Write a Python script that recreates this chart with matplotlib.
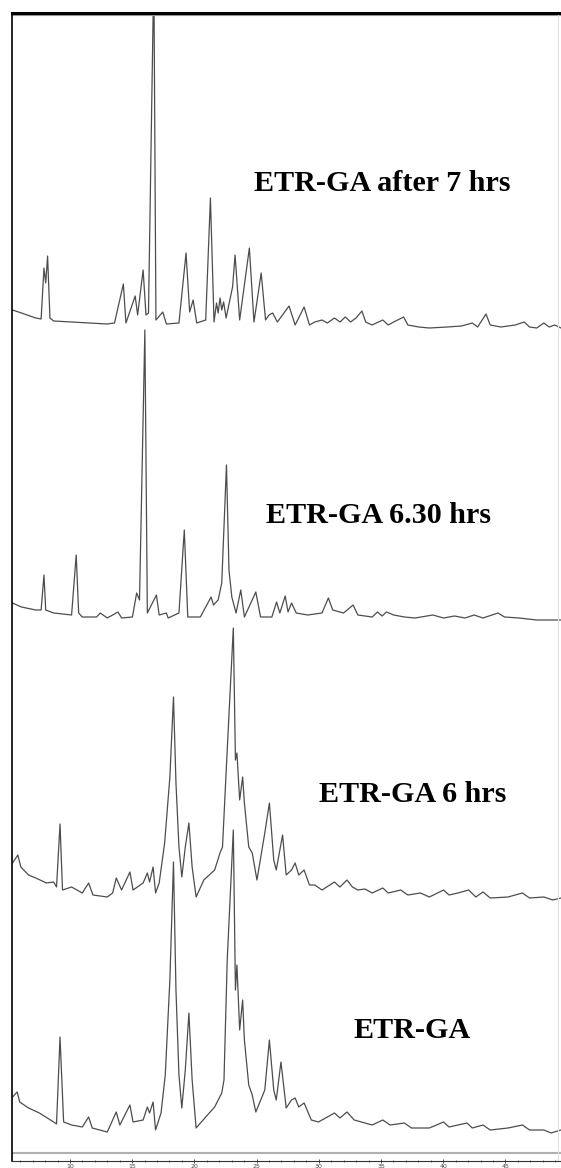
import numpy as np
import matplotlib
matplotlib.use("Agg")
import matplotlib.pyplot as plt

# ETR-GA after 7 hrs
tt_7h = [5.38, 6.10, 7.25, 7.68, 7.91, 8.05, 8.20, 8.39, 8.69, 10.13,
         11.56, 12.98, 13.58, 14.29, 14.50, 15.24, 15.44, 15.88, 16.11, 16.31,
         16.74, 16.91, 17.46, 17.75, 18.76, 19.33, 19.62, 19.90, 20.19, 20.91,
         21.29, 21.58, 21.78, 21.91, 22.06, 22.20, 22.35, 22.55, 23.07, 23.27,
         23.64, 24.42, 24.79, 25.37, 25.72, 26.00, 26.29, 26.67, 27.61, 28.10,
         28.82, 29.25, 29.68, 30.26, 30.69, 31.26, 31.71, 32.13, 32.56, 32.99,
         33.47, 33.77, 34.28, 35.15, 35.58, 36.02, 36.82, 37.16, 38.03, 38.89,
         40.32, 41.47, 42.34, 42.77, 43.44, 43.78, 44.64, 45.79, 46.51, 46.94,
         47.52, 48.09, 48.52, 48.96, 49.47]
int_7h = [20, 17, 12, 11, 62, 47, 74, 12, 9, 8,
          7, 6, 7, 46, 7, 34, 15, 60, 15, 17,
          360, 10, 18, 6, 7, 77, 18, 30, 7, 10,
          132, 8, 27, 17, 32, 20, 28, 12, 43, 75,
          10, 82, 8, 57, 10, 15, 17, 8, 24, 5,
          23, 5, 8, 10, 7, 12, 8, 13, 8, 12,
          19, 8, 5, 10, 5, 8, 13, 5, 3, 2,
          3, 4, 7, 3, 16, 5, 3, 5, 8, 3,
          2, 7, 3, 5, 2]

# ETR-GA 6.30 hrs
tt_630 = [5.38, 6.10, 7.25, 7.68, 7.91, 8.05, 8.69, 10.13, 10.50, 10.70,
          10.99, 12.14, 12.43, 13.00, 13.86, 14.15, 15.02, 15.36, 15.59, 16.02,
          16.22, 16.95, 17.17, 17.75, 17.89, 18.76, 19.19, 19.47, 20.48, 21.34,
          21.54, 21.91, 22.20, 22.58, 22.78, 23.01, 23.35, 23.73, 24.02, 24.94,
          25.32, 26.23, 26.61, 26.87, 27.30, 27.53, 27.81, 28.19, 29.11, 30.26,
          30.77, 31.12, 31.99, 32.76, 33.14, 34.29, 34.72, 35.09, 35.44, 36.02,
          36.88, 37.74, 39.17, 40.03, 40.90, 41.76, 42.48, 43.20, 44.41, 44.93,
          46.08, 47.52, 49.47]
int_630 = [22, 18, 15, 15, 50, 15, 12, 10, 70, 12,
           8, 8, 12, 7, 13, 7, 8, 32, 25, 295,
           12, 30, 10, 12, 7, 12, 95, 8, 8, 28,
           20, 25, 42, 160, 55, 28, 12, 35, 8, 33,
           8, 8, 23, 12, 29, 13, 22, 12, 10, 12,
           27, 15, 12, 20, 10, 8, 13, 9, 13, 10,
           8, 7, 10, 7, 9, 7, 10, 7, 12, 8,
           7, 5, 5]

# ETR-GA 6 hrs
tt_6h = [5.38, 5.81, 6.05, 6.67, 7.25, 8.11, 8.69, 8.92, 9.20, 9.40,
         10.13, 10.99, 11.50, 11.85, 13.00, 13.43, 13.72, 14.15, 14.82, 15.07,
         15.88, 16.22, 16.40, 16.68, 16.88, 17.17, 17.61, 18.03, 18.32, 18.52,
         18.76, 18.99, 19.27, 19.56, 19.82, 20.14, 20.76, 21.63, 22.06, 22.26,
         22.64, 23.13, 23.30, 23.42, 23.64, 23.88, 24.02, 24.37, 24.65, 25.03,
         25.66, 26.03, 26.38, 26.58, 27.09, 27.38, 27.81, 28.10, 28.39, 28.82,
         29.25, 29.68, 30.26, 31.26, 31.70, 32.27, 32.70, 33.14, 33.71, 34.29,
         35.15, 35.58, 36.59, 37.16, 38.17, 38.89, 40.03, 40.47, 41.19, 42.05,
         42.62, 43.20, 43.78, 45.21, 46.37, 46.94, 48.09, 48.81, 49.47]
int_6h = [37, 45, 33, 25, 22, 17, 18, 13, 76, 10,
          13, 7, 17, 5, 3, 7, 22, 10, 28, 10,
          17, 27, 18, 33, 7, 17, 57, 123, 203, 117,
          53, 23, 53, 77, 33, 3, 20, 30, 47, 53,
          150, 272, 140, 147, 100, 123, 97, 53, 47, 20,
          67, 97, 40, 30, 65, 25, 30, 37, 25, 30,
          15, 15, 10, 18, 13, 20, 13, 10, 11, 7,
          12, 7, 10, 5, 7, 3, 10, 5, 7, 10,
          3, 8, 2, 3, 7, 2, 3, 0, 2]

# ETR-GA
tt_0 = [5.38, 5.76, 5.96, 6.67, 7.54, 8.69, 8.92, 9.20, 9.49, 10.13,
        10.99, 11.50, 11.79, 13.00, 13.72, 14.01, 14.82, 15.07, 15.88, 16.22,
        16.40, 16.68, 16.88, 17.32, 17.66, 18.03, 18.32, 18.52, 18.76, 18.99,
        19.27, 19.56, 19.82, 20.14, 20.91, 21.63, 22.20, 22.38, 22.64, 23.13,
        23.30, 23.42, 23.64, 23.88, 24.02, 24.37, 24.65, 24.94, 25.66, 26.03,
        26.38, 26.58, 26.96, 27.38, 27.81, 28.10, 28.39, 28.82, 29.40, 29.97,
        31.26, 31.70, 32.27, 32.85, 33.71, 34.29, 35.15, 35.73, 36.88, 37.45,
        38.89, 40.03, 40.47, 41.91, 42.34, 43.20, 43.78, 45.21, 46.37, 46.94,
        48.09, 48.67, 49.47]
int_0 = [38, 43, 33, 27, 22, 13, 11, 98, 13, 10,
         8, 18, 7, 3, 23, 10, 30, 13, 15, 28,
         22, 33, 5, 22, 60, 155, 273, 145, 60, 27,
         65, 122, 55, 7, 18, 28, 42, 55, 175, 305,
         145, 170, 105, 135, 95, 50, 40, 23, 45, 95,
         45, 35, 73, 27, 35, 37, 28, 32, 15, 13,
         22, 17, 23, 15, 12, 10, 15, 10, 12, 7,
         7, 13, 8, 12, 7, 10, 5, 7, 10, 5,
         5, 2, 5]

labels = ["ETR-GA after 7 hrs", "ETR-GA 6.30 hrs", "ETR-GA 6 hrs", "ETR-GA"]
series = [(tt_7h, int_7h), (tt_630, int_630), (tt_6h, int_6h), (tt_0, int_0)]
offsets = [830.5, 535.5, 260.5, 25.5]
# label anchor (pixels from left / top of the image)
label_pos = [(382, 191), (378, 523), (413, 802), (412, 1038)]

W, H = 561, 1168
fig = plt.figure(figsize=(W / 100, H / 100), dpi=100)
ax = fig.add_axes([11.5 / W, (H - 1160.5) / H, (W - 11.5) / W, (1160.5 - 13) / H])

for (tt, inten), off in zip(series, offsets):
    ax.plot(tt, np.array(inten) + off, color="#4d4d4d", lw=0.9)

ax.set_xlim(5.30, 49.47)
ax.set_ylim(0, 1147.5)

ax.spines["top"].set_linewidth(2.2)
ax.spines["top"].set_color("black")
ax.spines["left"].set_linewidth(1.2)
ax.spines["left"].set_color("black")
ax.spines["right"].set_visible(False)
ax.spines["bottom"].set_linewidth(0.8)
ax.spines["bottom"].set_color("#333333")
ax.axhline(1145.2, color="#999999", lw=0.8)
ax.axhline(7.5, color="#b0b0b0", lw=1.5)
ax.axvline(49.23, color="#e2e2e2", lw=0.8)

ax.set_xticks(np.arange(10, 50, 5))
ax.set_xticks(np.arange(6, 50, 1), minor=True)
ax.set_yticks([])
ax.tick_params(axis="x", which="major", direction="inout", length=3, width=0.6,
               color="#333333", labelsize=4.5, labelcolor="#444444", pad=1)
ax.tick_params(axis="x", which="minor", direction="inout", length=2, width=0.5,
               color="#333333")

for text, (px, py) in zip(labels, label_pos):
    fig.text(px / W, 1 - py / H, text, ha="center", va="baseline",
             family="Liberation Serif", weight="bold", fontsize=21.7)

fig.savefig("out.png", dpi=100)
